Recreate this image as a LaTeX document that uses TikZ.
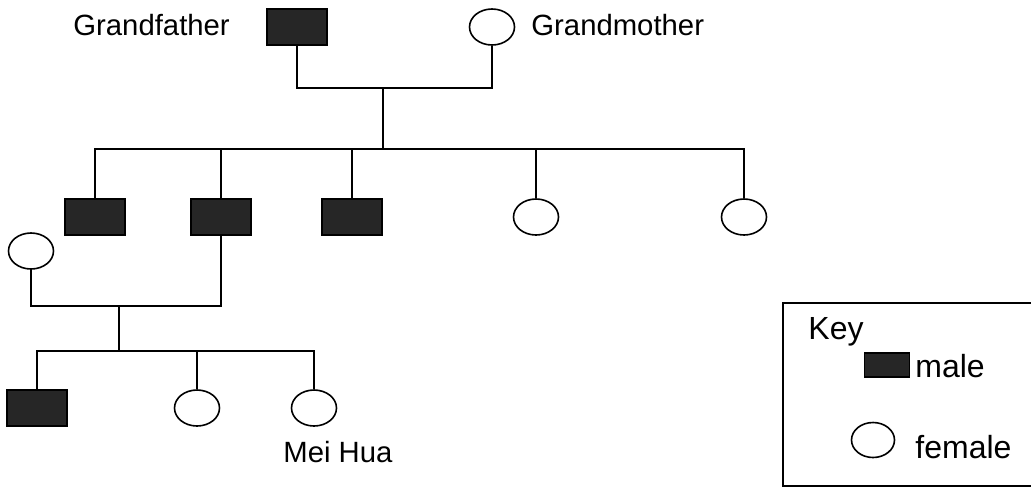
\documentclass[tikz,border=0pt]{standalone}
\usepackage{fontspec}
\setmainfont{Liberation Sans}
\usetikzlibrary{shapes.geometric, positioning}

\begin{document}
\begin{tikzpicture}[
    x=0.5pt, y=-0.5pt,
    % Node styles
    male/.style={rectangle, draw=black, fill=black!85, line width=0.8pt, minimum width=30pt, minimum height=18pt, inner sep=0pt},
    female/.style={ellipse, draw=black, fill=white, line width=0.8pt, minimum width=22.5pt, minimum height=18pt, inner sep=0pt},
    line/.style={draw=black, line width=1pt},
    tag/.style={font=\fontsize{14.65}{17}\selectfont, inner sep=0pt, anchor=base west},
    keytag/.style={font=\fontsize{16}{19}\selectfont, inner sep=0pt, anchor=base west},
]
\useasboundingbox (0,0) rectangle (1031,488);

% === Grandparents ===
\node[male] (gf) at (297, 27) {};
\node[female] (gm) at (492, 27) {};
\node[tag] (gflabel) at (73, 35) {Grandfather};
\node[tag] (gmlabel) at (531, 35) {Grandmother};

% === Children ===
\node[male] (c1) at (95, 217) {};
\node[male] (c2) at (221, 217) {};
\node[male] (c3) at (352, 217) {};
\node[female] (c4) at (536, 217) {};
\node[female] (c5) at (744, 217) {};

% === Wife and grandchildren ===
\node[female] (wife) at (31, 251) {};
\node[male] (gc1) at (37, 408) {};
\node[female] (gc2) at (197, 408) {};
\node[female] (gc3) at (314, 408) {};
\node[tag] (meihua) at (283, 462) {Mei Hua};

% Junction points
\coordinate (couple) at (383, 88);
\coordinate (sibs) at (383, 149);
\coordinate (couple2) at (119, 306);
\coordinate (sibs2) at (119, 351);

% === Connectors ===
\draw[line] (gf.south) |- (couple) -| (gm.south);
\draw[line] (couple) -- (sibs);
\draw[line] (c1.north) |- (sibs) -| (c5.north);
\foreach \c in {c2, c3, c4}
    \draw[line] (\c.north) -- (\c.north |- sibs);

\draw[line] (wife.south) |- (couple2) -| (c2.south);
\draw[line] (couple2) -- (sibs2);
\draw[line] (gc1.north) |- (sibs2) -| (gc3.north);
\draw[line] (gc2.north) -- (gc2.north |- sibs2);

% === Key (box open at the right edge) ===
\coordinate (keytop) at (1031, 303);
\coordinate (keybottom) at (1031, 486);
\draw[line width=0.8pt] (keytop) -- (783, 303) -- (783, 486) -- (keybottom);
\node[keytag] (keylabel) at (808, 339) {Key};
\node[male, minimum width=22.5pt, minimum height=12pt] (keymale) at (887, 365) {};
\node[keytag] (malelabel) at (915, 377) {male};
\node[female, minimum width=21.5pt, minimum height=17.5pt] (keyfemale) at (873, 440) {};
\node[keytag] (femalelabel) at (915, 458) {female};

\end{tikzpicture}
\end{document}
